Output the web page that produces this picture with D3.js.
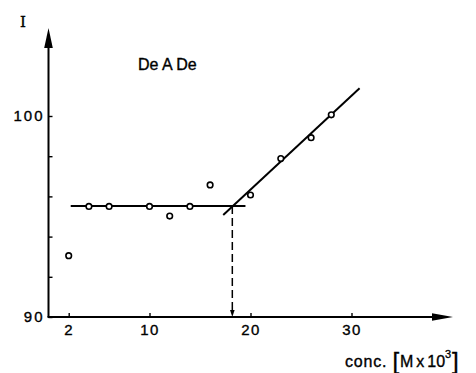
<!DOCTYPE html>
<html>
<head>
<meta charset="utf-8">
<script src="https://cdn.jsdelivr.net/npm/d3@7"></script>
<style>
  body { margin: 0; background: #fff; }
  svg { display: block; }
  text { stroke: #000; stroke-width: 0.35px; }
</style>
</head>
<body>
<svg id="chart"></svg>
<script>
// data
const concValues = [2, 4, 6, 10, 12, 14, 16, 20, 23, 26, 28];
const intensityValues = [93.05, 95.5, 95.5, 95.5, 95.02, 95.5, 96.57, 96.07, 97.88, 98.92, 100.06];
const plateauLine = [[2.2, 95.52], [19.5, 95.52]];
const slopeLine = [[17.3, 95.07], [30.8, 101.38]];
const breakX = 18.2;
const xTicks = [2, 10, 20, 30];
const yTicks = [90, 92, 94, 96, 98, 100];
const yLabels = [90, 100];

const W = 476, H = 373;
const svg = d3.select('#chart').attr('width', W).attr('height', H);
const font = '"Liberation Sans", Arial, sans-serif';

const x = d3.scaleLinear().domain([0, 40]).range([48.5, 452.5]);
const y = d3.scaleLinear().domain([90, 104]).range([317, 35.6]);

// arrow head drawn as a small triangle; (tx,ty) is the tip
function arrowHead(tx, ty, len, half, dir) {
  let pts;
  if (dir === 'up') pts = [[tx, ty], [tx - half, ty + len], [tx + half, ty + len]];
  else if (dir === 'right') pts = [[tx, ty], [tx - len, ty - half], [tx - len, ty + half]];
  else pts = [[tx, ty], [tx - half, ty - len], [tx + half, ty - len]];
  svg.append('path').attr('d', 'M' + pts.join('L') + 'Z').attr('fill', '#000');
}

// axes
svg.append('line')
  .attr('x1', x(0)).attr('y1', y(90)).attr('x2', x(0)).attr('y2', 40)
  .attr('stroke', '#000').attr('stroke-width', 2);
arrowHead(x(0), 28, 20, 4.3, 'up');
svg.append('line')
  .attr('x1', x(0) - 1).attr('y1', y(90)).attr('x2', 440).attr('y2', y(90))
  .attr('stroke', '#000').attr('stroke-width', 2);
arrowHead(453, y(90), 21, 3.8, 'right');

// x ticks
const xAxis = svg.append('g')
  .attr('transform', `translate(0,${y(90)})`)
  .call(d3.axisBottom(x).tickValues(xTicks).tickSize(-4).tickPadding(7).tickFormat(d3.format('d')));
xAxis.select('.domain').remove();
xAxis.selectAll('line').attr('stroke-width', 1.4);
xAxis.selectAll('text').attr('font-family', font).attr('font-size', 15)
  .attr('letter-spacing', 1.5).attr('fill', '#000');

// y ticks
const yAxis = svg.append('g')
  .attr('transform', `translate(${x(0)},0)`)
  .call(d3.axisLeft(y).tickValues(yTicks).tickSize(-4).tickPadding(4)
    .tickFormat(d => yLabels.includes(d) ? d : ''));
yAxis.select('.domain').remove();
yAxis.selectAll('line').attr('stroke-width', 1.4);
yAxis.selectAll('text').attr('font-family', font).attr('font-size', 15)
  .attr('letter-spacing', 2).attr('fill', '#000');

// fit lines
const line = d3.line().x(d => x(d[0])).y(d => y(d[1]));
svg.append('path').attr('d', line(plateauLine))
  .attr('fill', 'none').attr('stroke', '#000').attr('stroke-width', 2);
svg.append('path').attr('d', line(slopeLine))
  .attr('fill', 'none').attr('stroke', '#000').attr('stroke-width', 2);

// dashed drop line to the breakpoint
svg.append('line')
  .attr('x1', x(breakX)).attr('y1', y(plateauLine[0][1]))
  .attr('x2', x(breakX)).attr('y2', y(90) - 6)
  .attr('stroke', '#000').attr('stroke-width', 1.5)
  .attr('stroke-dasharray', '8,4');
arrowHead(x(breakX), y(90), 7, 2.3, 'down');

// points
svg.append('g').selectAll('circle')
  .data(concValues.map((c, i) => [c, intensityValues[i]]))
  .join('circle')
  .attr('cx', d => x(d[0])).attr('cy', d => y(d[1])).attr('r', 2.8)
  .attr('fill', '#fff').attr('stroke', '#000').attr('stroke-width', 1.6);

// labels
svg.append('text').attr('x', 23).attr('y', 27)
  .attr('font-family', '"DejaVu Serif", serif').attr('font-size', 15)
  .attr('text-anchor', 'middle').text('I');
const deade = svg.append('text').attr('x', 138).attr('y', 70)
  .attr('font-family', font).attr('font-size', 16);
deade.append('tspan').text('De');
deade.append('tspan').attr('dx', 3.5).text('A');
deade.append('tspan').attr('dx', 3.5).text('De');

const conc = svg.append('text').attr('x', 345).attr('y', 367)
  .attr('font-family', font).attr('font-size', 16).attr('letter-spacing', 0.8);
conc.append('tspan').text('conc. ');
conc.append('tspan').attr('font-size', 24).attr('dy', 2).text('[');
conc.append('tspan').attr('dy', -2).attr('letter-spacing', 0).text('M');
conc.append('tspan').attr('dx', 3).attr('letter-spacing', 0).text('x');
conc.append('tspan').attr('dx', 3).attr('letter-spacing', 0).text('10');
conc.append('tspan').attr('font-size', 11).attr('dy', -9).text('3');
conc.append('tspan').attr('font-size', 24).attr('dy', 11).text(']');
</script>
</body>
</html>
